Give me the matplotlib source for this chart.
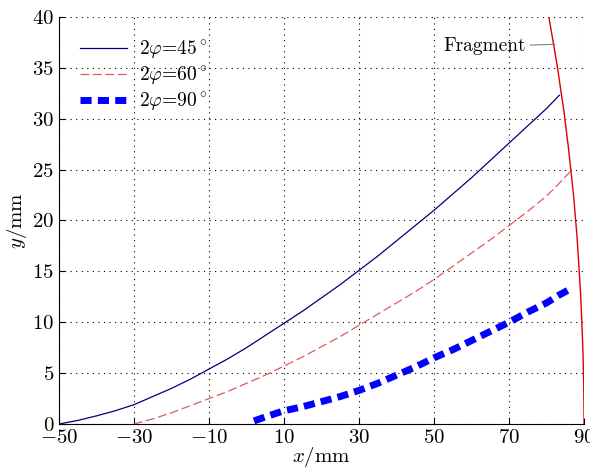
import matplotlib
matplotlib.use("Agg")
import matplotlib.pyplot as plt

plt.rcParams['font.family'] = 'serif'
plt.rcParams['font.serif'] = ['cmr10', 'DejaVu Serif']
plt.rcParams['mathtext.fontset'] = 'cm'
plt.rcParams['axes.formatter.use_mathtext'] = True

# 2phi = 45 deg
x45 = [-50, -45, -40, -35, -30, -25, -20, -15, -10, -5, 0, 5, 10, 15, 20, 25,
       30, 35, 40, 45, 50, 55, 60, 65, 70, 75, 80, 83.4]
y45 = [0, 0.35, 0.8, 1.3, 1.9, 2.7, 3.5, 4.4, 5.4, 6.4, 7.5, 8.7, 9.9, 11.1,
       12.4, 13.7, 15.1, 16.5, 18.0, 19.5, 21.0, 22.6, 24.2, 25.9, 27.6, 29.3,
       31.0, 32.3]

# 2phi = 60 deg
x60 = [-30, -25, -20, -15, -10, -5, 0, 5, 10, 15, 20, 25, 30, 35, 40, 45, 50,
       55, 60, 65, 70, 75, 80, 83, 86.3]
y60 = [0, 0.5, 1.1, 1.8, 2.5, 3.2, 4.0, 4.8, 5.7, 6.6, 7.6, 8.6, 9.7, 10.8,
       11.9, 13.0, 14.2, 15.5, 16.8, 18.1, 19.5, 20.9, 22.4, 23.5, 24.8]

# 2phi = 90 deg
x90 = [2, 5, 10, 15, 20, 25, 30, 35, 40, 45, 50, 55, 60, 65, 70, 75, 80, 83, 87]
y90 = [0.3, 0.7, 1.3, 1.7, 2.2, 2.7, 3.3, 4.0, 4.8, 5.6, 6.5, 7.3, 8.2, 9.1,
       10.0, 11.0, 11.9, 12.6, 13.4]

# fragment boundary
xf = [80.6, 81.3, 82.0, 83.0, 83.9, 84.6, 85.2, 85.8, 86.3, 86.8, 87.3, 87.7,
      88.1, 88.4, 88.7, 89.1, 89.4, 89.7, 89.9, 90.0]
yf = [40, 38.5, 37.0, 34.8, 32.5, 30.8, 29.0, 27.2, 25.5, 23.8, 22.0, 20.2,
      18.5, 16.7, 15.0, 12.5, 10.0, 7.0, 4.0, 0]

labels = [r'2$\varphi$=45$^\circ$', r'2$\varphi$=60$^\circ$', r'2$\varphi$=90$^\circ$']

fig = plt.figure(figsize=(5.9, 4.68), dpi=100)
ax = fig.add_axes([0.1, 0.094, 0.89, 0.87])

ax.plot(x45, y45, color='#000080', lw=0.9, label=labels[0])
ax.plot(x60, y60, color='#e05a5a', lw=0.9, ls=(0, (7, 3)), label=labels[1])
ax.plot(x90, y90, color='#0000ff', lw=5, ls=(0, (1.6, 0.9)), label=labels[2])
ax.plot(xf, yf, color='#dd0000', lw=1.0)

ax.annotate('Fragment', xy=(82.2, 37.3), xytext=(74.5, 37.1),
            ha='right', va='center', fontsize=14,
            arrowprops=dict(arrowstyle='-', color='gray', lw=0.8,
                            shrinkA=1, shrinkB=0))

ax.set_xlim(-50, 90)
ax.set_ylim(0, 40)
ax.set_xticks(range(-50, 91, 20))
ax.set_yticks(range(0, 41, 5))
ax.grid(True, ls=(0, (1, 4)), color='black', lw=0.8)
ax.spines['top'].set_visible(False)
ax.spines['right'].set_visible(False)
ax.tick_params(direction='in', labelsize=15, length=4)
ax.set_xlabel(r'$x$/mm', fontsize=15, labelpad=-1)
ax.set_ylabel(r'$y$/mm', fontsize=15, labelpad=2)

ax.legend(loc='upper left', frameon=False, fontsize=14, handlelength=2.4,
          handletextpad=0.6, borderaxespad=0.6, labelspacing=0.2,
          borderpad=0.5)

fig.savefig('out.png', dpi=100)
